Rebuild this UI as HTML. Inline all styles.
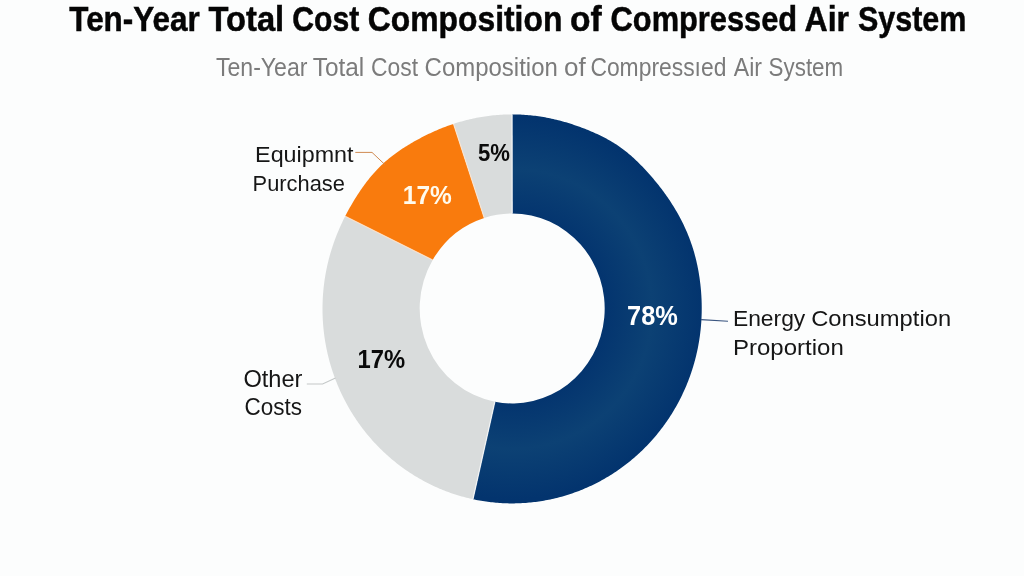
<!DOCTYPE html>
<html><head><meta charset="utf-8"><style>
html,body{margin:0;padding:0;background:#fcfdfd;}
body{width:1024px;height:576px;overflow:hidden;}
svg{display:block;will-change:transform;font-family:"Liberation Sans", sans-serif;}
</style></head><body>
<svg width="1024" height="576" viewBox="0 0 1024 576">
<defs>
<radialGradient id="ng" gradientUnits="userSpaceOnUse" cx="512.1" cy="308.9" r="194.5">
<stop offset="0.49" stop-color="#04356f"/>
<stop offset="0.72" stop-color="#0c4174"/>
<stop offset="0.98" stop-color="#03346e"/>
</radialGradient>
</defs>
<rect width="1024" height="576" fill="#fcfdfd"/>
<path d="M512.10,114.40 L513.76,114.41 L515.42,114.43 L517.07,114.47 L518.73,114.52 L520.39,114.59 L522.04,114.67 L523.70,114.76 L525.35,114.88 L527.01,115.00 L528.66,115.14 L530.31,115.30 L531.96,115.47 L533.61,115.65 L535.25,115.85 L536.90,116.07 L538.54,116.30 L540.18,116.54 L541.82,116.80 L543.46,117.07 L545.09,117.36 L546.72,117.66 L548.35,117.98 L549.98,118.31 L551.60,118.66 L553.23,119.01 L554.84,119.39 L556.46,119.77 L558.07,120.17 L559.68,120.59 L561.28,121.01 L562.89,121.45 L564.48,121.91 L566.08,122.37 L567.67,122.85 L569.26,123.34 L570.85,123.84 L572.43,124.35 L574.01,124.88 L575.58,125.42 L577.16,125.96 L578.72,126.52 L580.29,127.09 L581.85,127.67 L583.41,128.27 L584.97,128.87 L586.52,129.48 L588.07,130.11 L589.61,130.74 L591.15,131.39 L592.69,132.05 L594.22,132.72 L595.75,133.40 L597.27,134.10 L598.79,134.81 L600.31,135.53 L601.81,136.27 L603.31,137.02 L604.80,137.79 L606.29,138.58 L607.77,139.38 L609.23,140.20 L610.69,141.04 L612.14,141.89 L613.58,142.77 L615.01,143.66 L616.42,144.58 L617.82,145.51 L619.21,146.46 L620.59,147.43 L621.96,148.42 L623.31,149.43 L624.65,150.46 L625.97,151.50 L627.29,152.56 L628.59,153.64 L629.87,154.73 L631.15,155.84 L632.41,156.96 L633.66,158.09 L634.90,159.24 L636.12,160.40 L637.34,161.57 L638.55,162.75 L639.74,163.94 L640.93,165.14 L642.11,166.35 L643.27,167.56 L644.43,168.79 L645.58,170.02 L646.72,171.26 L647.86,172.51 L648.98,173.76 L650.10,175.02 L651.21,176.29 L652.31,177.56 L653.40,178.85 L654.49,180.14 L655.56,181.43 L656.63,182.74 L657.69,184.05 L658.73,185.37 L659.77,186.69 L660.81,188.03 L661.83,189.37 L662.84,190.72 L663.84,192.07 L664.83,193.44 L665.82,194.81 L666.79,196.19 L667.75,197.58 L668.70,198.97 L669.64,200.37 L670.57,201.78 L671.49,203.20 L672.40,204.63 L673.30,206.06 L674.18,207.50 L675.06,208.95 L675.92,210.40 L676.77,211.87 L677.61,213.34 L678.44,214.82 L679.25,216.30 L680.05,217.79 L680.84,219.29 L681.62,220.80 L682.38,222.32 L683.13,223.84 L683.87,225.37 L684.59,226.90 L685.29,228.45 L685.99,230.00 L686.67,231.56 L687.33,233.12 L687.98,234.69 L688.61,236.27 L689.23,237.85 L689.84,239.44 L690.42,241.04 L690.99,242.64 L691.55,244.25 L692.09,245.86 L692.62,247.48 L693.13,249.10 L693.62,250.73 L694.10,252.37 L694.56,254.01 L695.01,255.65 L695.44,257.29 L695.86,258.95 L696.26,260.60 L696.64,262.26 L697.01,263.92 L697.37,265.59 L697.71,267.25 L698.04,268.93 L698.35,270.60 L698.65,272.27 L698.93,273.95 L699.20,275.63 L699.46,277.32 L699.70,279.00 L699.93,280.69 L700.15,282.38 L700.35,284.07 L700.53,285.76 L700.71,287.45 L700.87,289.15 L701.02,290.84 L701.15,292.54 L701.27,294.24 L701.38,295.93 L701.47,297.63 L701.55,299.33 L701.61,301.03 L701.67,302.73 L701.70,304.43 L701.73,306.14 L701.74,307.84 L701.73,309.54 L701.72,311.24 L701.69,312.94 L701.64,314.64 L701.58,316.34 L701.51,318.04 L701.42,319.74 L701.32,321.44 L701.20,323.13 L701.07,324.83 L700.93,326.52 L700.77,328.22 L700.60,329.91 L700.41,331.60 L700.21,333.29 L699.99,334.97 L699.76,336.66 L699.52,338.34 L699.26,340.02 L698.99,341.70 L698.70,343.37 L698.40,345.05 L698.08,346.72 L697.75,348.38 L697.41,350.05 L697.05,351.71 L696.68,353.36 L696.29,355.02 L695.89,356.67 L695.48,358.32 L695.05,359.96 L694.61,361.60 L694.15,363.23 L693.68,364.86 L693.20,366.49 L692.70,368.11 L692.19,369.73 L691.66,371.34 L691.12,372.95 L690.57,374.56 L690.00,376.16 L689.42,377.75 L688.83,379.34 L688.22,380.92 L687.60,382.50 L686.97,384.07 L686.32,385.63 L685.66,387.19 L684.99,388.75 L684.30,390.30 L683.60,391.84 L682.88,393.37 L682.16,394.90 L681.42,396.42 L680.67,397.94 L679.90,399.45 L679.12,400.95 L678.33,402.45 L677.53,403.93 L676.71,405.41 L675.88,406.89 L675.04,408.35 L674.19,409.81 L673.32,411.26 L672.44,412.70 L671.55,414.14 L670.65,415.56 L669.73,416.98 L668.80,418.39 L667.87,419.79 L666.91,421.19 L665.95,422.57 L664.98,423.95 L663.99,425.31 L662.99,426.67 L661.98,428.02 L660.96,429.36 L659.93,430.69 L658.88,432.01 L657.83,433.32 L656.76,434.63 L655.69,435.92 L654.60,437.20 L653.50,438.48 L652.39,439.74 L651.27,440.99 L650.14,442.24 L648.99,443.47 L647.84,444.69 L646.68,445.91 L645.51,447.11 L644.32,448.30 L643.13,449.48 L641.93,450.65 L640.71,451.81 L639.49,452.96 L638.26,454.09 L637.01,455.22 L635.76,456.34 L634.50,457.44 L633.23,458.53 L631.95,459.61 L630.66,460.68 L629.36,461.74 L628.05,462.79 L626.74,463.82 L625.41,464.84 L624.08,465.85 L622.74,466.85 L621.39,467.84 L620.03,468.81 L618.66,469.77 L617.28,470.72 L615.90,471.66 L614.51,472.59 L613.11,473.50 L611.70,474.40 L610.29,475.29 L608.87,476.16 L607.44,477.02 L606.00,477.87 L604.56,478.71 L603.11,479.53 L601.65,480.34 L600.18,481.14 L598.71,481.92 L597.23,482.69 L595.75,483.45 L594.26,484.19 L592.76,484.92 L591.26,485.64 L589.75,486.34 L588.23,487.03 L586.71,487.71 L585.18,488.37 L583.65,489.02 L582.11,489.65 L580.57,490.28 L579.02,490.88 L577.47,491.48 L575.91,492.06 L574.34,492.62 L572.77,493.17 L571.20,493.71 L569.62,494.23 L568.04,494.74 L566.46,495.24 L564.86,495.72 L563.27,496.18 L561.67,496.63 L560.07,497.07 L558.46,497.50 L556.85,497.90 L555.24,498.30 L553.63,498.68 L552.01,499.04 L550.38,499.39 L548.76,499.73 L547.13,500.05 L545.50,500.36 L543.87,500.65 L542.23,500.93 L540.59,501.19 L538.95,501.44 L537.31,501.67 L535.67,501.89 L534.02,502.10 L532.37,502.29 L530.72,502.46 L529.07,502.62 L527.42,502.76 L525.77,502.89 L524.11,503.01 L522.46,503.11 L520.80,503.20 L519.14,503.27 L517.49,503.32 L515.83,503.36 L514.17,503.39 L512.51,503.40 L510.86,503.40 L509.20,503.38 L507.54,503.34 L505.88,503.30 L504.23,503.23 L502.57,503.15 L500.91,503.06 L499.26,502.95 L497.61,502.83 L495.95,502.69 L494.30,502.54 L492.65,502.37 L491.00,502.19 L489.36,502.00 L487.71,501.78 L486.07,501.56 L484.43,501.32 L482.79,501.06 L481.15,500.79 L479.52,500.51 L477.88,500.21 L476.25,499.89 L474.63,499.56 L473.00,499.22 L494.87,401.77 A92.5,95.0 0 1 0 512.20,213.45 Z" fill="url(#ng)"/>
<path d="M473.00,499.22 L471.38,498.86 L469.76,498.49 L468.14,498.10 L466.52,497.70 L464.91,497.28 L463.30,496.85 L461.70,496.40 L460.10,495.94 L458.50,495.47 L456.91,494.98 L455.32,494.47 L453.74,493.96 L452.16,493.42 L450.58,492.88 L449.01,492.32 L447.45,491.74 L445.89,491.15 L444.33,490.55 L442.78,489.93 L441.24,489.30 L439.70,488.66 L438.16,488.00 L436.64,487.33 L435.11,486.64 L433.60,485.95 L432.09,485.23 L430.58,484.51 L429.09,483.77 L427.59,483.01 L426.11,482.25 L424.63,481.47 L423.16,480.67 L421.70,479.87 L420.24,479.05 L418.79,478.21 L417.34,477.37 L415.91,476.51 L414.48,475.64 L413.06,474.75 L411.64,473.86 L410.24,472.95 L408.84,472.02 L407.45,471.09 L406.07,470.14 L404.69,469.18 L403.33,468.21 L401.97,467.22 L400.62,466.23 L399.28,465.22 L397.95,464.20 L396.63,463.17 L395.31,462.12 L394.01,461.06 L392.71,460.00 L391.42,458.92 L390.15,457.83 L388.88,456.72 L387.62,455.61 L386.37,454.48 L385.13,453.35 L383.90,452.20 L382.68,451.04 L381.47,449.87 L380.27,448.69 L379.08,447.50 L377.90,446.30 L376.73,445.09 L375.57,443.86 L374.43,442.63 L373.29,441.39 L372.16,440.13 L371.05,438.87 L369.94,437.60 L368.85,436.31 L367.76,435.02 L366.69,433.72 L365.63,432.40 L364.58,431.08 L363.54,429.75 L362.51,428.41 L361.50,427.06 L360.49,425.70 L359.50,424.33 L358.52,422.95 L357.55,421.57 L356.59,420.17 L355.65,418.77 L354.72,417.36 L353.79,415.94 L352.89,414.51 L351.99,413.08 L351.11,411.63 L350.23,410.18 L349.37,408.72 L348.53,407.25 L347.69,405.78 L346.87,404.30 L346.06,402.81 L345.27,401.31 L344.48,399.80 L343.71,398.29 L342.95,396.78 L342.21,395.25 L341.48,393.72 L340.76,392.18 L340.05,390.64 L339.36,389.09 L338.68,387.53 L338.02,385.97 L337.37,384.40 L336.73,382.82 L336.10,381.24 L335.49,379.66 L334.89,378.07 L334.31,376.47 L333.74,374.87 L333.18,373.26 L332.64,371.65 L332.11,370.03 L331.59,368.41 L331.09,366.79 L330.60,365.16 L330.13,363.52 L329.67,361.88 L329.22,360.24 L328.79,358.59 L328.38,356.94 L327.97,355.29 L327.58,353.63 L327.21,351.97 L326.85,350.30 L326.50,348.64 L326.17,346.97 L325.85,345.29 L325.54,343.62 L325.25,341.94 L324.98,340.25 L324.72,338.57 L324.47,336.88 L324.24,335.20 L324.02,333.50 L323.82,331.81 L323.63,330.12 L323.46,328.42 L323.30,326.72 L323.15,325.03 L323.02,323.33 L322.91,321.62 L322.80,319.92 L322.72,318.22 L322.65,316.52 L322.59,314.81 L322.54,313.11 L322.52,311.40 L322.50,309.70 L322.50,307.99 L322.52,306.29 L322.55,304.58 L322.59,302.88 L322.65,301.17 L322.72,299.47 L322.81,297.76 L322.91,296.06 L323.03,294.36 L323.16,292.66 L323.31,290.96 L323.47,289.27 L323.64,287.57 L323.83,285.88 L324.04,284.18 L324.26,282.49 L324.49,280.80 L324.74,279.12 L325.00,277.43 L325.27,275.75 L325.56,274.07 L325.87,272.40 L326.19,270.72 L326.52,269.05 L326.87,267.38 L327.23,265.72 L327.61,264.06 L328.00,262.40 L328.40,260.75 L328.82,259.10 L329.25,257.45 L329.70,255.81 L330.16,254.17 L330.63,252.53 L331.12,250.90 L331.62,249.28 L332.14,247.66 L332.67,246.04 L333.21,244.43 L333.76,242.82 L334.33,241.22 L334.92,239.62 L335.51,238.03 L336.12,236.44 L336.74,234.86 L337.38,233.28 L338.02,231.71 L338.68,230.15 L339.36,228.59 L340.04,227.03 L340.74,225.48 L341.45,223.94 L342.17,222.40 L342.90,220.87 L343.64,219.34 L344.39,217.82 L345.16,216.31 L432.66,259.95 A92.5,95.0 0 0 0 494.87,401.77 Z" fill="#d9dcdc"/>
<path d="M345.16,216.31 L345.93,214.80 L346.72,213.30 L347.51,211.80 L348.32,210.31 L349.14,208.83 L349.96,207.35 L350.80,205.88 L351.65,204.41 L352.50,202.95 L353.37,201.49 L354.25,200.04 L355.14,198.60 L356.03,197.16 L356.94,195.73 L357.86,194.30 L358.79,192.88 L359.73,191.47 L360.68,190.07 L361.64,188.67 L362.62,187.28 L363.61,185.90 L364.61,184.53 L365.62,183.16 L366.64,181.81 L367.68,180.46 L368.74,179.13 L369.80,177.81 L370.88,176.50 L371.98,175.20 L373.09,173.92 L374.22,172.65 L375.36,171.39 L376.51,170.15 L377.68,168.92 L378.87,167.70 L380.07,166.51 L381.29,165.32 L382.52,164.16 L383.77,163.01 L385.03,161.87 L386.30,160.76 L387.59,159.66 L388.89,158.57 L390.20,157.51 L391.53,156.45 L392.86,155.42 L394.21,154.40 L395.57,153.40 L396.94,152.41 L398.32,151.43 L399.70,150.47 L401.10,149.53 L402.50,148.60 L403.92,147.68 L405.34,146.77 L406.76,145.88 L408.19,145.00 L409.63,144.13 L411.08,143.28 L412.53,142.43 L413.98,141.60 L415.44,140.78 L416.91,139.97 L418.38,139.17 L419.86,138.38 L421.34,137.60 L422.82,136.83 L424.31,136.07 L425.81,135.33 L427.31,134.59 L428.81,133.87 L430.32,133.16 L431.83,132.45 L433.35,131.76 L434.87,131.08 L436.40,130.42 L437.93,129.76 L439.47,129.12 L441.01,128.49 L442.56,127.87 L444.11,127.26 L445.66,126.67 L447.22,126.09 L448.79,125.52 L450.35,124.96 L451.93,124.42 L453.50,123.89 L484.23,217.90 A92.5,95.0 0 0 0 432.66,259.95 Z" fill="#f97b0d"/>
<path d="M453.50,123.89 L455.12,123.37 L456.75,122.85 L458.38,122.35 L460.02,121.87 L461.66,121.40 L463.30,120.94 L464.95,120.50 L466.60,120.08 L468.25,119.67 L469.91,119.27 L471.57,118.89 L473.23,118.53 L474.90,118.18 L476.57,117.84 L478.25,117.52 L479.92,117.22 L481.60,116.93 L483.28,116.66 L484.96,116.40 L486.65,116.16 L488.34,115.93 L490.03,115.72 L491.72,115.53 L493.41,115.35 L495.10,115.18 L496.80,115.03 L498.50,114.90 L500.19,114.78 L501.89,114.68 L503.59,114.60 L505.29,114.53 L506.99,114.47 L508.70,114.43 L510.40,114.41 L512.10,114.40 L512.20,213.45 A92.5,95.0 0 0 0 484.23,217.90 Z" fill="#d9dcdc"/>
<line x1="512.10" y1="114.40" x2="512.20" y2="213.45" stroke="#fff" stroke-width="1.2" opacity="0.8"/>
<line x1="473.00" y1="499.22" x2="494.87" y2="401.77" stroke="#fff" stroke-width="1.2" opacity="0.8"/>
<line x1="345.16" y1="216.31" x2="432.66" y2="259.95" stroke="#fde6d2" stroke-width="1.1" opacity="0.9"/>
<line x1="453.50" y1="123.89" x2="484.23" y2="217.90" stroke="#fde6d2" stroke-width="1.1" opacity="0.9"/>
<polyline points="355.3,152.4 372,152.4 384.8,164.5" fill="none" stroke="#cf8a52" stroke-width="1"/><polyline points="306.8,384 322.6,384 335.5,378" fill="none" stroke="#c4c8c8" stroke-width="1.1"/><polyline points="701,319.6 728,321.2" fill="none" stroke="#3b5680" stroke-width="1.1"/>
<text x="69.3" y="31.1" font-size="35" font-weight="bold" fill="#050505" stroke="#050505" stroke-width="0.5" textLength="130.3" lengthAdjust="spacingAndGlyphs">Ten-Year</text><text x="208.5" y="31.1" font-size="35" font-weight="bold" fill="#050505" stroke="#050505" stroke-width="0.5" textLength="75.7" lengthAdjust="spacingAndGlyphs">Total</text><text x="292.3" y="31.1" font-size="35" font-weight="bold" fill="#050505" stroke="#050505" stroke-width="0.5" textLength="67.0" lengthAdjust="spacingAndGlyphs">Cost</text><text x="367.7" y="31.1" font-size="35" font-weight="bold" fill="#050505" stroke="#050505" stroke-width="0.5" textLength="194.7" lengthAdjust="spacingAndGlyphs">Composition</text><text x="570.0" y="31.1" font-size="35" font-weight="bold" fill="#050505" stroke="#050505" stroke-width="0.5" textLength="31.7" lengthAdjust="spacingAndGlyphs">of</text><text x="610.6" y="31.1" font-size="35" font-weight="bold" fill="#050505" stroke="#050505" stroke-width="0.5" textLength="186.5" lengthAdjust="spacingAndGlyphs">Compressed</text><text x="804.5" y="31.1" font-size="35" font-weight="bold" fill="#050505" stroke="#050505" stroke-width="0.5" textLength="44.5" lengthAdjust="spacingAndGlyphs">Air</text><text x="857.9" y="31.1" font-size="35" font-weight="bold" fill="#050505" stroke="#050505" stroke-width="0.5" textLength="108.5" lengthAdjust="spacingAndGlyphs">System</text><text x="215.9" y="75.6" font-size="25.4" font-weight="normal" fill="#7b7b7b" textLength="91.6" lengthAdjust="spacingAndGlyphs">Ten-Year</text><text x="312.7" y="75.6" font-size="25.4" font-weight="normal" fill="#7b7b7b" textLength="51.5" lengthAdjust="spacingAndGlyphs">Total</text><text x="371.0" y="75.6" font-size="25.4" font-weight="normal" fill="#7b7b7b" textLength="47.0" lengthAdjust="spacingAndGlyphs">Cost</text><text x="424.6" y="75.6" font-size="25.4" font-weight="normal" fill="#7b7b7b" textLength="133.2" lengthAdjust="spacingAndGlyphs">Composition</text><text x="564.0" y="75.6" font-size="25.4" font-weight="normal" fill="#7b7b7b" textLength="21.7" lengthAdjust="spacingAndGlyphs">of</text><text x="590.4" y="75.6" font-size="25.4" font-weight="normal" fill="#7b7b7b" textLength="136.0" lengthAdjust="spacingAndGlyphs">Compress&#305;ed</text><text x="733.8" y="75.6" font-size="25.4" font-weight="normal" fill="#7b7b7b" textLength="28.2" lengthAdjust="spacingAndGlyphs">Air</text><text x="768.6" y="75.6" font-size="25.4" font-weight="normal" fill="#7b7b7b" textLength="74.6" lengthAdjust="spacingAndGlyphs">System</text><text x="255.1" y="161.6" font-size="22.6" font-weight="normal" fill="#161616" textLength="98.4" lengthAdjust="spacingAndGlyphs">Equipmnt</text><text x="252.6" y="190.9" font-size="22.6" font-weight="normal" fill="#161616" textLength="92.3" lengthAdjust="spacingAndGlyphs">Purchase</text><text x="243.4" y="386.7" font-size="23.2" font-weight="normal" fill="#161616" textLength="59.1" lengthAdjust="spacingAndGlyphs">Other</text><text x="244.6" y="414.8" font-size="23.2" font-weight="normal" fill="#161616" textLength="57.5" lengthAdjust="spacingAndGlyphs">Costs</text><text x="732.9" y="326" font-size="22.6" font-weight="normal" fill="#161616" textLength="72.4" lengthAdjust="spacingAndGlyphs">Energy</text><text x="811.2" y="326" font-size="22.6" font-weight="normal" fill="#161616" textLength="139.9" lengthAdjust="spacingAndGlyphs">Consumption</text><text x="733.0" y="355.4" font-size="22.6" font-weight="normal" fill="#161616" textLength="110.8" lengthAdjust="spacingAndGlyphs">Proportion</text><text x="478.0" y="160.8" font-size="24.8" font-weight="bold" fill="#0a0a0a" textLength="32.0" lengthAdjust="spacingAndGlyphs">5%</text><text x="402.8" y="203.8" font-size="26.2" font-weight="bold" fill="#fffbee" textLength="49.0" lengthAdjust="spacingAndGlyphs">17%</text><text x="357.5" y="367.8" font-size="25.4" font-weight="bold" fill="#0a0a0a" textLength="47.6" lengthAdjust="spacingAndGlyphs">17%</text><text x="627.1" y="324.6" font-size="27" font-weight="bold" fill="#ffffff" textLength="50.8" lengthAdjust="spacingAndGlyphs">78%</text>
</svg>
</body></html>
